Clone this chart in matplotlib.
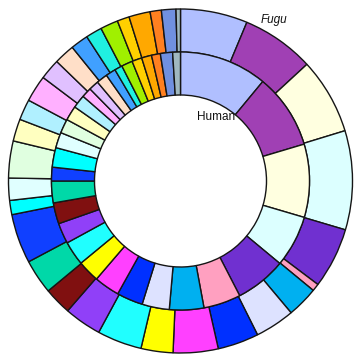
import matplotlib
matplotlib.use("Agg")
import matplotlib.pyplot as plt

# Gene-family groups shared by both genomes, in drawing order (clockwise from 12 o'clock)
families = [
    "F01", "F02", "F03", "F04", "F05", "F06", "F07", "F08",
    "F09", "F10", "F11", "F12", "F13", "F14", "F15", "F16",
    "F17", "F18", "F19", "F20", "F21", "F22", "F23", "F24",
    "F25", "F26", "F27", "F28", "F29", "F30", "F31", "F32",
]

colors = [
    "#b0bfff", "#a040b4", "#ffffe0", "#dcffff", "#7030d0", "#ffa0c0",
    "#00b0f0", "#dde2ff", "#0030ff", "#ff40ff", "#ffff00", "#20ffff",
    "#9040f8", "#801010", "#00d8a8", "#1040ff", "#00ffff", "#e0ffff",
    "#e0ffe0", "#ffffc0", "#b0f0ff", "#ffb0ff", "#e0c0ff", "#ffdfc8",
    "#40a0ff", "#20f0e0", "#a0f000", "#ffd000", "#ffa800", "#ff8020",
    "#7090e0", "#a0b8c0",
]

# Share of each family in the Fugu genome (outer ring)
fugu = [
    22.7, 24.6, 25.7, 33.5, 20.5, 2.5, 10.5, 13.4,
    13.9, 15.2, 10.8, 15.1, 12.6, 9.3, 11.7, 16.7,
    4.8, 7.5, 12.5, 7.5, 7.0, 9.0, 7.0, 7.0,
    6.0, 5.5, 6.0, 4.1, 7.2, 3.8, 4.9, 1.5,
]

# Share of each family in the human genome (inner ring)
human = [
    39.6, 33.8, 33.0, 23.3, 23.0, 16.8, 15.5, 12.3,
    11.8, 11.5, 9.9, 10.9, 9.3, 9.5, 9.8, 6.2,
    8.8, 7.0, 6.4, 6.6, 6.0, 4.5, 4.5, 5.0,
    4.5, 3.5, 5.0, 4.5, 4.5, 4.0, 5.5, 3.5,
]

ring_labels = ["Fugu", "Human"]

W, H = 354, 355
fig = plt.figure(figsize=(W / 100, H / 100), dpi=100)
ax = fig.add_axes([0, 0, 1, 1])

wedge_style = dict(width=0.25, edgecolor="#151515", linewidth=1.0)
ax.pie(fugu, radius=1.0, colors=colors, startangle=90, counterclock=False,
       wedgeprops=wedge_style)
ax.pie(human, radius=0.75, colors=colors, startangle=90, counterclock=False,
       wedgeprops=wedge_style)

# place the pie centre and scale in pixel terms
cx, cy, r = 180.5, 181.0, 172.0
ax.set_xlim(-cx / r, (W - cx) / r)
ax.set_ylim(-(H - cy) / r, cy / r)
ax.set_aspect("equal")
ax.axis("off")

ax.text(0.544, 0.936, ring_labels[0], ha="center", va="center",
        fontsize=8.5, style="italic", family="Liberation Sans", color="#111111")
ax.text(0.206, 0.372, ring_labels[1], ha="center", va="center",
        fontsize=8.5, family="Liberation Sans", color="#111111")

fig.savefig("out.png", dpi=100)
